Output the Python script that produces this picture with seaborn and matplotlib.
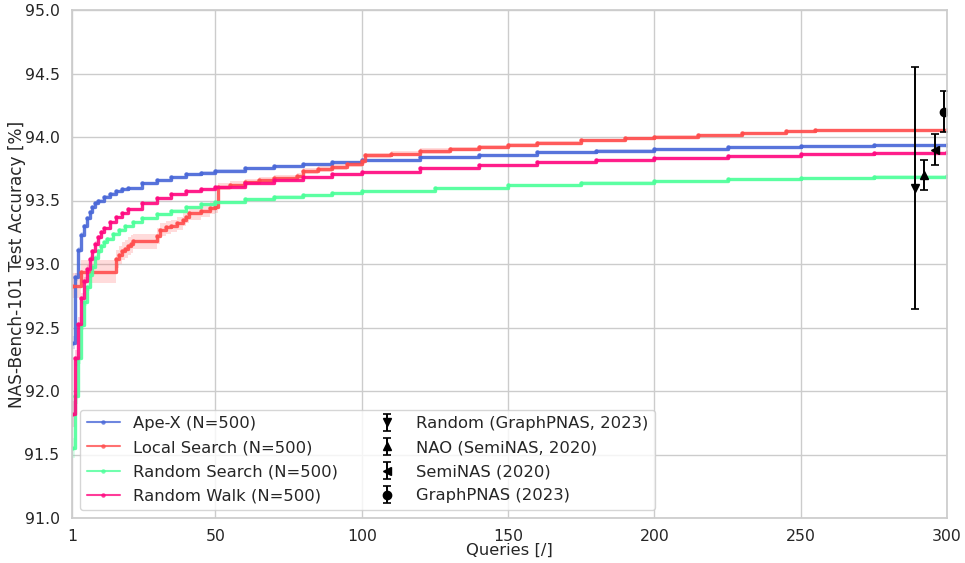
import numpy as np
import pandas as pd
import matplotlib
matplotlib.use("Agg")
import matplotlib.pyplot as plt
import seaborn as sns

# ---------------- data ----------------
apex_q = [1, 2, 3, 4, 5, 6, 7, 8, 9, 10, 12, 14, 16, 18, 20, 25, 30, 35, 40, 45, 50,
          60, 70, 80, 90, 100, 120, 140, 160, 180, 200, 225, 250, 275, 300]
apex_v = [92.38, 92.90, 93.11, 93.23, 93.30, 93.36, 93.41, 93.45, 93.48, 93.50, 93.53,
          93.555, 93.575, 93.59, 93.60, 93.635, 93.66, 93.685, 93.705, 93.72, 93.735,
          93.752, 93.77, 93.785, 93.80, 93.815, 93.84, 93.86, 93.878, 93.893, 93.905,
          93.918, 93.928, 93.936, 93.94]
apex_err = [0.05, 0.03, 0.02, 0.02, 0.015, 0.01, 0.01, 0.01, 0.01, 0.01, 0.01,
            0.01, 0.01, 0.01, 0.01, 0.01, 0.01, 0.01, 0.01, 0.01, 0.01,
            0.01, 0.01, 0.01, 0.01, 0.01, 0.01, 0.01, 0.01, 0.01, 0.01,
            0.01, 0.01, 0.01, 0.01]

ls_q = [1, 4, 16, 17, 18, 19, 20, 21, 22, 30, 31, 33, 35, 37, 39, 40, 41, 45, 48, 50,
        51, 55, 60, 65, 70, 78, 80, 85, 90, 95, 100, 101, 110, 120, 130, 140, 150, 160,
        175, 190, 200, 215, 230, 245, 255, 300]
ls_v = [92.83, 92.94, 93.04, 93.07, 93.10, 93.12, 93.14, 93.16, 93.18, 93.22, 93.27,
        93.29, 93.30, 93.32, 93.35, 93.37, 93.40, 93.42, 93.44, 93.45,
        93.61, 93.625, 93.645, 93.66, 93.675, 93.695, 93.73, 93.75, 93.765, 93.785,
        93.81, 93.855, 93.87, 93.89, 93.905, 93.92, 93.94, 93.955,
        93.975, 93.99, 94.00, 94.015, 94.03, 94.045, 94.055, 94.055]
ls_err = [0.10, 0.09, 0.07, 0.07, 0.07, 0.07, 0.07, 0.07, 0.06, 0.06, 0.05,
          0.05, 0.05, 0.05, 0.05, 0.05, 0.05, 0.05, 0.05, 0.05,
          0.025, 0.025, 0.025, 0.025, 0.025, 0.025, 0.025, 0.025, 0.025, 0.025,
          0.025, 0.02, 0.02, 0.02, 0.015, 0.015, 0.015, 0.015,
          0.012, 0.012, 0.012, 0.01, 0.01, 0.01, 0.01, 0.01]

rs_q = [1, 2, 3, 4, 5, 6, 7, 8, 9, 10, 11, 12, 13, 15, 17, 19, 22, 25, 30, 35, 40, 45,
        50, 60, 70, 80, 90, 100, 125, 150, 175, 200, 225, 250, 275, 300]
rs_v = [91.55, 91.96, 92.26, 92.52, 92.70, 92.82, 92.91, 92.98, 93.05, 93.10, 93.14,
        93.17, 93.20, 93.24, 93.27, 93.30, 93.33, 93.36, 93.39, 93.42, 93.45, 93.47,
        93.49, 93.51, 93.53, 93.545, 93.56, 93.575, 93.60, 93.62, 93.64, 93.655,
        93.667, 93.678, 93.687, 93.695]
rs_err = [0.08, 0.06, 0.05, 0.04, 0.03, 0.03, 0.02, 0.02, 0.02, 0.02, 0.015,
          0.015, 0.015, 0.01, 0.01, 0.01, 0.01, 0.01, 0.01, 0.01, 0.01, 0.01,
          0.01, 0.01, 0.01, 0.01, 0.01, 0.01, 0.01, 0.01, 0.01, 0.01,
          0.01, 0.01, 0.01, 0.01]

rw_q = [1, 2, 3, 4, 5, 6, 7, 8, 9, 10, 11, 12, 14, 16, 18, 20, 25, 30, 35, 40, 45, 50,
        60, 70, 80, 90, 100, 120, 140, 160, 180, 200, 225, 250, 275, 300]
rw_v = [91.82, 92.26, 92.53, 92.73, 92.87, 92.96, 93.04, 93.10, 93.16, 93.21, 93.25,
        93.28, 93.33, 93.37, 93.40, 93.43, 93.48, 93.52, 93.55, 93.575, 93.59, 93.605,
        93.64, 93.66, 93.685, 93.705, 93.725, 93.755, 93.78, 93.80, 93.82, 93.835,
        93.85, 93.865, 93.875, 93.885]
rw_err = [0.10, 0.06, 0.05, 0.04, 0.03, 0.03, 0.02, 0.02, 0.02, 0.02, 0.015,
          0.015, 0.01, 0.01, 0.01, 0.01, 0.01, 0.01, 0.01, 0.01, 0.01, 0.01,
          0.01, 0.01, 0.01, 0.01, 0.01, 0.01, 0.01, 0.01, 0.01, 0.01,
          0.01, 0.01, 0.01, 0.01]

series_names = ["Ape-X (N=500)", "Local Search (N=500)",
                "Random Search (N=500)", "Random Walk (N=500)"]
series_colors = ["#4a68d8", "#ff4d4d", "#4dff9a", "#ff0a80"]

ref_names = ["Random (GraphPNAS, 2023)", "NAO (SemiNAS, 2020)",
             "SemiNAS (2020)", "GraphPNAS (2023)"]
ref_q = [289, 292, 296, 299]
ref_mean = [93.60, 93.70, 93.90, 94.20]
ref_std = [0.955, 0.12, 0.12, 0.16]
ref_markers = ["v", "^", "<", "o"]

x_ticks = [1, 50, 100, 150, 200, 250, 300]
y_ticks = [91.0, 91.5, 92.0, 92.5, 93.0, 93.5, 94.0, 94.5, 95.0]

# ---------------- plotting ----------------
sns.set_theme(style="whitegrid")
plt.rcParams["font.family"] = ["DejaVu Sans"]

fig = plt.figure(figsize=(9.65, 5.63), dpi=100)
ax = fig.add_axes([72 / 965, 1 - 518 / 563, (947 - 72) / 965, (518 - 10) / 563])

all_series = [(apex_q, apex_v, apex_err), (ls_q, ls_v, ls_err),
              (rs_q, rs_v, rs_err), (rw_q, rw_v, rw_err)]

for (q, v, e), name, col in zip(all_series, series_names, series_colors):
    q = np.asarray(q, float)
    v = np.asarray(v, float)
    e = np.asarray(e, float)
    ax.fill_between(q, v - e, v + e, step="post", color=col, alpha=0.2, linewidth=0)
    df = pd.DataFrame({"Queries": q, "Acc": v})
    sns.lineplot(data=df, x="Queries", y="Acc", ax=ax, color=col, label=name,
                 drawstyle="steps-post", marker="o", markersize=3.2,
                 markeredgewidth=0, linewidth=2.4, alpha=0.9,
                 estimator=None, errorbar=None, sort=False)

for q, m, s, mk, name in zip(ref_q, ref_mean, ref_std, ref_markers, ref_names):
    ax.errorbar([q], [m], yerr=[s], fmt=mk, color="black", markersize=6,
                capsize=3, elinewidth=1.4, capthick=1.2, label=name)

ax.set_xlim(1, 300)
ax.set_ylim(91, 95)
ax.set_xticks(x_ticks)
ax.set_yticks(y_ticks)
ax.set_yticklabels([f"{t:.1f}" for t in y_ticks])
ax.tick_params(labelsize=11.3, pad=3)
ax.tick_params(axis="x", pad=2)
ax.set_xlabel("Queries [/]", fontsize=11.8, labelpad=-1)
ax.set_ylabel("NAS-Bench-101 Test Accuracy [%]", fontsize=12.2, labelpad=-1)

leg = ax.legend(loc="lower left", ncol=2, fontsize=11.8, frameon=True,
                labelspacing=0.55)
for h in leg.legend_handles[:4]:
    h.set_linewidth(1.5)
    h.set_alpha(0.8)

fig.savefig("out.png", dpi=100)
